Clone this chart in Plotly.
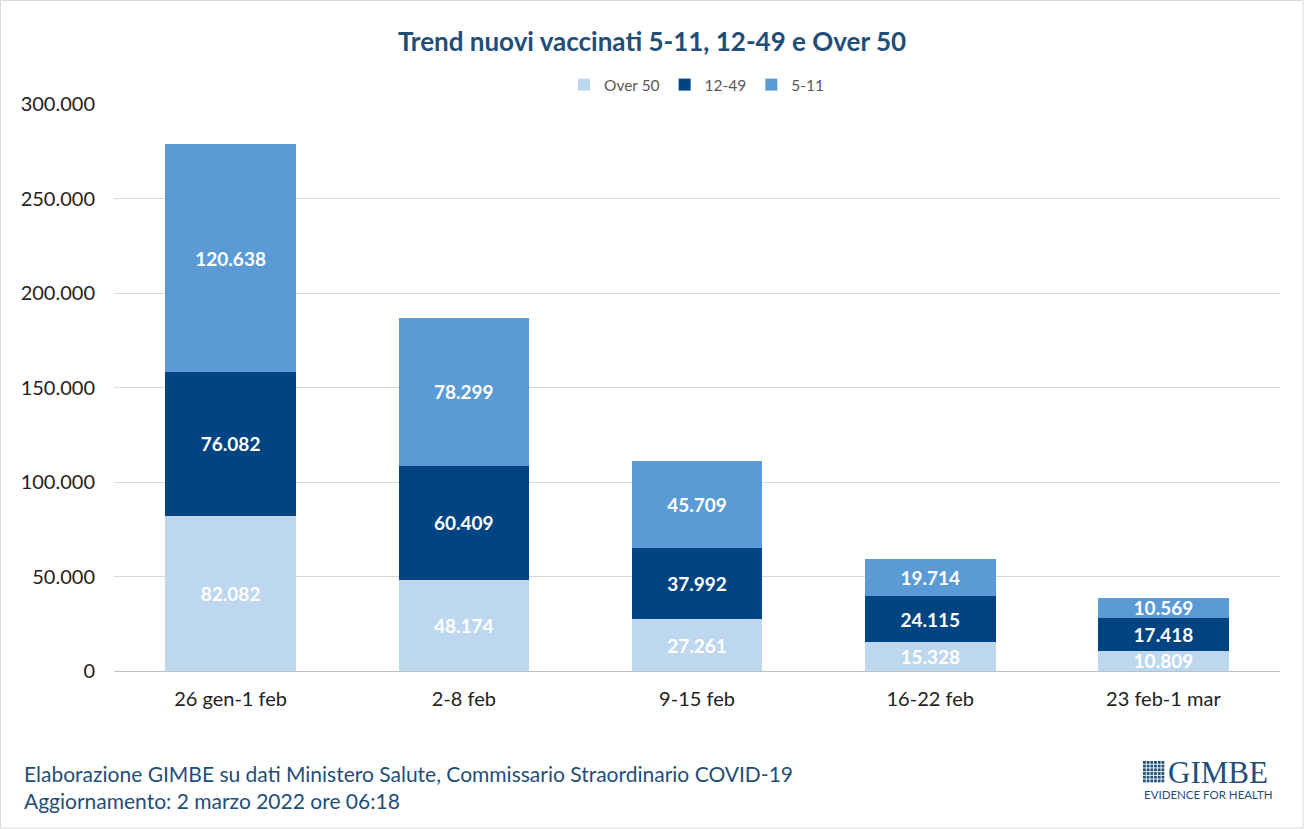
import plotly.graph_objects as go

categories = ["26 gen-1 feb", "2-8 feb", "9-15 feb", "16-22 feb", "23 feb-1 mar"]
over50 = [82082, 48174, 27261, 15328, 10809]
age12_49 = [76082, 60409, 37992, 24115, 17418]
age5_11 = [120638, 78299, 45709, 19714, 10569]
series_names = ["Over 50", "12-49", "5-11"]
colors = ["#BDD7EE", "#004481", "#5B9BD5"]
y_ticks = [0, 50000, 100000, 150000, 200000, 250000, 300000]
y_tick_labels = ["0", "50.000", "100.000", "150.000", "200.000", "250.000", "300.000"]

W, H = 1304, 829
L, R, T, B = 114, 24, 104, 158
PW, PH = W - L - R, H - T - B


def px(x):
    return (x - L) / PW


def py(y):
    return (H - B - y) / PH


def fmt(v):
    return f"{v:,}".replace(",", ".")


fig = go.Figure()
for name, vals, col in zip(series_names, [over50, age12_49, age5_11], colors):
    fig.add_trace(go.Bar(
        name=name, x=categories, y=vals, marker_color=col,
        marker_line_width=0,
        text=[fmt(v) for v in vals], textposition="inside",
        insidetextanchor="middle", textangle=0, constraintext="none",
        textfont=dict(color="white", size=19, family="Lato", weight="bold"),
        cliponaxis=False,
    ))

fig.update_layout(
    barmode="stack", bargap=0.44,
    width=W, height=H,
    margin=dict(l=L, r=R, t=T, b=B),
    paper_bgcolor="white", plot_bgcolor="white",
    separators=",.",
    font=dict(family="Lato", size=20, color="#222222"),
    title=dict(text="<b>Trend nuovi vaccinati 5-11, 12-49 e Over 50</b>",
               x=0.5, xanchor="center", y=1 - 42 / H, yanchor="middle",
               font=dict(size=26, color="#1F4E79", family="Lato")),
    legend=dict(orientation="h", x=0.5, xanchor="center", y=py(85), yanchor="middle",
                font=dict(size=15.5, color="#595959"), traceorder="normal",
                itemwidth=30, bgcolor="rgba(0,0,0,0)"),
    showlegend=True,
)
fig.update_yaxes(range=[0, 300000], tickvals=y_ticks, ticktext=y_tick_labels,
                 showgrid=True, gridcolor="#D9D9D9", gridwidth=1,
                 zeroline=True, zerolinecolor="#BFBFBF", zerolinewidth=1,
                 showline=False, ticks="", ticklabelstandoff=18,
                 tickfont=dict(size=20, color="#222222"))
fig.update_xaxes(showgrid=False, showline=False, ticks="",
                 tickfont=dict(size=20, color="#222222"), ticklabelstandoff=14)

# footer
fig.add_annotation(text="Elaborazione GIMBE su dati Ministero Salute, Commissario Straordinario COVID-19",
                   xref="paper", yref="paper", x=px(22), y=py(773), xanchor="left", yanchor="middle",
                   showarrow=False, font=dict(size=21, color="#1F4E79", family="Lato"))
fig.add_annotation(text="Aggiornamento: 2 marzo 2022 ore 06:18",
                   xref="paper", yref="paper", x=px(22), y=py(800), xanchor="left", yanchor="middle",
                   showarrow=False, font=dict(size=21, color="#1F4E79", family="Lato"))

# logo
fig.add_annotation(text="GIMBE", xref="paper", yref="paper", x=px(1166), y=py(772),
                   xanchor="left", yanchor="middle", showarrow=False,
                   font=dict(size=31, color="#1F4E79", family="Liberation Serif"))
fig.add_annotation(text="EVIDENCE FOR HEALTH", xref="paper", yref="paper", x=px(1142), y=py(794),
                   xanchor="left", yanchor="middle", showarrow=False,
                   font=dict(size=11.5, color="#1F4E79", family="Lato"))
for i in range(6):
    for j in range(6):
        x0 = 1143 + i * 3.7
        y0 = 761 + j * 3.7
        fig.add_shape(type="rect", xref="paper", yref="paper",
                      x0=px(x0), x1=px(x0 + 2.8), y0=py(y0), y1=py(y0 + 2.8),
                      line_width=0, fillcolor="#1F4E79")

# border
fig.add_shape(type="rect", xref="paper", yref="paper",
              x0=px(0.5), x1=px(W - 1), y0=py(0.5), y1=py(H - 1),
              line=dict(color="#D9D9D9", width=1), fillcolor="rgba(0,0,0,0)", layer="below")

fig.write_html("out.html", config={"displayModeBar": False},
               post_script="document.body.style.margin='0';")
